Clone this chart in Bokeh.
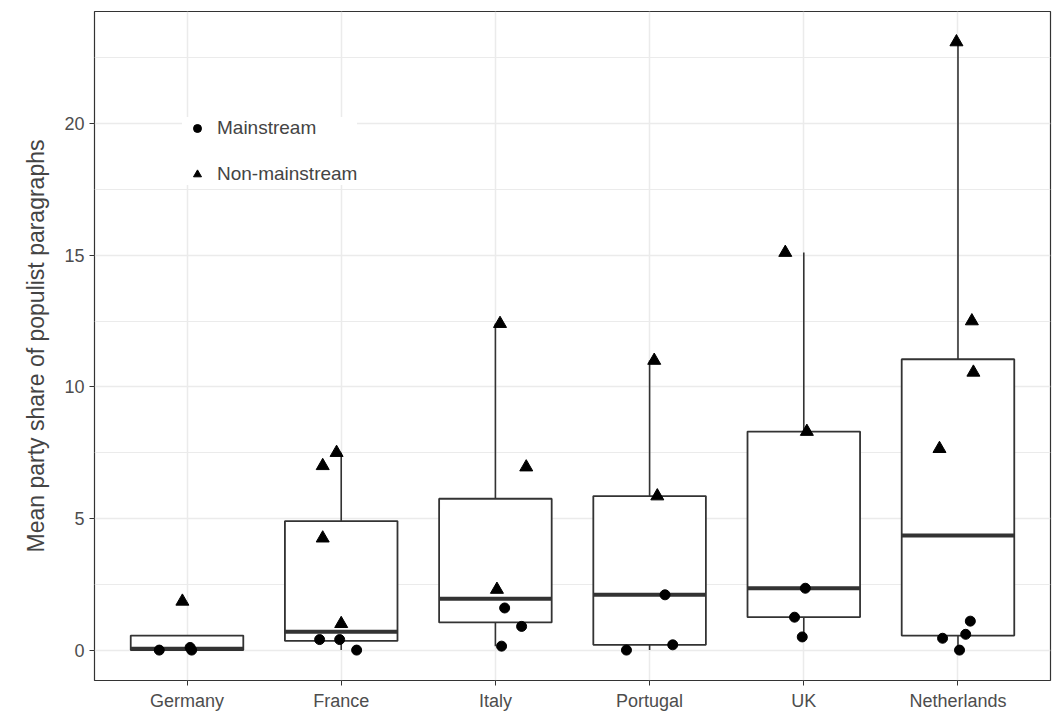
import numpy as np
from bokeh.plotting import figure
from bokeh.models import FixedTicker, Legend, LegendItem, ColumnDataSource
from bokeh.embed import file_html
from bokeh.resources import INLINE

countries = ["Germany", "France", "Italy", "Portugal", "UK", "Netherlands"]
q1 = [0.0, 0.35, 1.05, 0.2, 1.25, 0.55]
med = [0.05, 0.7, 1.95, 2.1, 2.35, 4.35]
q3 = [0.55, 4.9, 5.75, 5.85, 8.3, 11.05]
wlo = [0.0, 0.0, 0.15, 0.0, 0.5, 0.0]
whi = [0.55, 7.5, 12.4, 11.0, 15.1, 23.1]

# points: (country index, value, jitter offset)
tri_c = [0, 1, 1, 1, 1, 2, 2, 2, 3, 3, 4, 4, 5, 5, 5, 5]
tri_v = [1.85, 7.0, 7.5, 4.25, 1.0, 12.4, 6.95, 2.3, 11.0, 5.85, 15.1, 8.3, 23.1, 12.5, 10.55, 7.65]
tri_j = [-0.03, -0.12, -0.03, -0.12, 0.0, 0.03, 0.2, 0.01, 0.03, 0.05, -0.12, 0.02, -0.01, 0.09, 0.1, -0.12]
cir_c = [0, 0, 0, 1, 1, 1, 2, 2, 2, 3, 3, 3, 4, 4, 4, 5, 5, 5, 5]
cir_v = [0.0, 0.1, 0.0, 0.4, 0.4, 0.0, 1.6, 0.9, 0.15, 2.1, 0.2, 0.0, 2.35, 1.25, 0.5, 1.1, 0.6, 0.45, 0.0]
cir_j = [-0.18, 0.02, 0.03, -0.14, -0.01, 0.1, 0.06, 0.17, 0.04, 0.1, 0.15, -0.15, 0.01, -0.06, -0.01, 0.08, 0.05, -0.1, 0.01]

xs = np.arange(1, len(countries) + 1)
p = figure(width=1055, height=713, x_range=(0.4, 6.6), y_range=(-1.155, 24.26),
           output_backend="svg", toolbar_location=None,
           min_border_left=94, min_border_top=11, min_border_right=5, min_border_bottom=30)
p.background_fill_color = "white"
p.outline_line_color = "#333333"
p.outline_line_width = 1.2
p.xaxis.ticker = FixedTicker(ticks=list(xs))
p.xaxis.major_label_overrides = {int(i): c for i, c in zip(xs, countries)}
p.yaxis.ticker = FixedTicker(ticks=[0, 5, 10, 15, 20], minor_ticks=[2.5, 7.5, 12.5, 17.5, 22.5])
p.xgrid.ticker = FixedTicker(ticks=list(xs))
for ax in (p.xaxis[0], p.yaxis[0]):
    ax.axis_line_color = None
    ax.major_tick_line_color = "#333333"
    ax.major_tick_out = 5
    ax.major_tick_in = 0
    ax.minor_tick_line_color = None
    ax.major_label_text_font = "Liberation Sans"
    ax.major_label_text_font_size = "18px"
    ax.major_label_text_color = "#4d4d4d"
p.yaxis.axis_label = "Mean party share of populist paragraphs"
p.yaxis.axis_label_text_font = "Liberation Sans"
p.yaxis.axis_label_text_font_style = "normal"
p.yaxis.axis_label_text_font_size = "23px"
p.yaxis.axis_label_standoff = 12
p.grid.grid_line_color = "#ebebeb"
p.grid.grid_line_width = 1.5
p.ygrid.minor_grid_line_color = "#ebebeb"
p.ygrid.minor_grid_line_width = 1

src = ColumnDataSource(dict(x=xs, q1=q1, med=med, q3=q3, wlo=wlo, whi=whi))
p.segment("x", "q3", "x", "whi", source=src, line_color="#333333", line_width=1.6)
p.segment("x", "wlo", "x", "q1", source=src, line_color="#333333", line_width=1.6)
p.vbar(x="x", bottom="q1", top="q3", width=0.73, source=src, fill_color="white",
       line_color="#333333", line_width=1.8)
p.vbar(x="x", bottom="med", top="med", width=0.73, source=src, line_color="#333333", line_width=4)

tx = [xs[c] + j for c, j in zip(tri_c, tri_j)]
cx = [xs[c] + j for c, j in zip(cir_c, cir_j)]
r1 = p.scatter(cx, cir_v, marker="circle", size=10, color="black")
r2 = p.scatter(tx, tri_v, marker="triangle", size=13, color="black")

leg = Legend(items=[LegendItem(label="Mainstream", renderers=[r1]),
                    LegendItem(label="Non-mainstream", renderers=[r2])],
             location=(88, 495), border_line_color=None, background_fill_color="white",
             background_fill_alpha=1, label_text_font="Liberation Sans",
             label_text_font_size="19px", spacing=24, glyph_width=30)
p.add_layout(leg, "center")

open("out.html", "w").write(file_html(p, INLINE))
